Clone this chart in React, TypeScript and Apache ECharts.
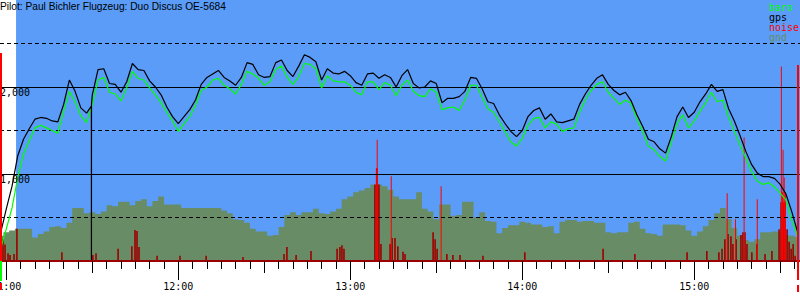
import React, { useEffect, useRef } from "react";
import * as echarts from "echarts";

// ---- data (time in minutes after 11:00) ----
const titleText = "Pilot: Paul Bichler Flugzeug: Duo Discus OE-5684";
const baseHour = 11;
const sampleStart = -2;
const sampleStep = 2;
const flightStart = 3.4;

const gpsAlt = [
  320, 600, 860, 1210, 1400, 1520, 1630, 1650, 1640, 1610,
  1600, 1800, 2080, 1950, 1760, 1700, 1910, 2200, 2210, 2040,
  2030, 1940, 2060, 2270, 2200, 2190, 2070, 2000, 1910, 1770,
  1660, 1580, 1660, 1740, 1850, 2030, 2110, 2150, 2190, 2110,
  2070, 2020, 2110, 2280, 2260, 2140, 2110, 2120, 2280, 2310,
  2190, 2120, 2240, 2370, 2340, 2290, 2080, 2210, 2160, 2150,
  2180, 2130, 2050, 2020, 2150, 2160, 2100, 2140, 2110, 2000,
  2130, 2200, 2040, 1990, 2000, 2070, 2040, 1820, 1870, 1870,
  1890, 1950, 2110, 2100, 1980, 1830, 1810, 1680, 1580, 1490,
  1430, 1500, 1660, 1730, 1760, 1630, 1690, 1600, 1590, 1610,
  1630, 1800, 1920, 2020, 2100, 2140, 2030, 1960, 1910, 1940,
  1840, 1680, 1550, 1400, 1370, 1290, 1240, 1430, 1660, 1770,
  1650, 1710, 1830, 1920, 2030, 1950, 1970, 1750, 1610, 1440,
  1260, 1110, 1010, 970, 970, 950, 880, 770, 570, 340,
];
const gpsDropout = [
  [29.68, 1780],
  [29.7, 0],
  [29.72, 1800],
];

const baroAlt = [
  140, 370, 610, 960, 1230, 1380, 1530, 1560, 1530, 1500,
  1470, 1720, 1950, 1830, 1670, 1590, 1800, 2080, 2110, 1940,
  1920, 1840, 1990, 2180, 2100, 2080, 1990, 1910, 1820, 1710,
  1610, 1490, 1580, 1660, 1790, 1960, 2000, 2080, 2100, 2020,
  1980, 1920, 2030, 2180, 2150, 2100, 2020, 2060, 2200, 2240,
  2110, 2030, 2120, 2270, 2260, 2210, 1990, 2130, 2070, 2060,
  2060, 2020, 1940, 1910, 2060, 2060, 1970, 2050, 2020, 1900,
  2020, 2080, 1950, 1900, 1890, 1980, 1940, 1740, 1760, 1770,
  1730, 1850, 2020, 2020, 1880, 1750, 1710, 1600, 1490, 1370,
  1320, 1410, 1560, 1640, 1650, 1530, 1600, 1570, 1490, 1520,
  1530, 1710, 1850, 1960, 2030, 2060, 1940, 1870, 1800, 1850,
  1810, 1630, 1490, 1320, 1280, 1200, 1150, 1360, 1580, 1680,
  1530, 1610, 1720, 1820, 1940, 1830, 1850, 1650, 1490, 1330,
  1180, 1030, 920, 880, 900, 850, 780, 700, 470, 290,
];

const gndAlt = [
  290, 330, 350, 370, 370, 370, 270, 310, 340, 390,
  400, 380, 440, 610, 610, 550, 560, 540, 570, 640,
  630, 680, 680, 640, 690, 710, 630, 690, 740, 650,
  650, 650, 610, 610, 610, 610, 610, 610, 610, 580,
  550, 480, 470, 440, 370, 340, 340, 290, 300, 390,
  530, 560, 530, 560, 560, 600, 550, 540, 570, 600,
  710, 740, 790, 810, 840, 880, 880, 860, 820, 740,
  710, 710, 710, 790, 600, 570, 480, 650, 650, 520,
  530, 680, 680, 500, 560, 460, 450, 320, 380, 410,
  410, 450, 440, 420, 420, 390, 400, 320, 450, 470,
  470, 450, 460, 460, 440, 440, 330, 320, 330, 330,
  440, 450, 370, 320, 310, 290, 420, 420, 420, 410,
  350, 290, 340, 400, 470, 550, 610, 480, 380, 290,
  240, 220, 250, 330, 330, 340, 340, 300, 290, 280,
];

const noiseLow = [
  [-1.85, 290], [-1.15, 250], [-0.45, 190], [0.6, 90], [1.3, 70], [2.7, 80], [3.7, 370],
  [19.4, 100], [30.2, 70], [31.3, 90], [39.0, 140], [43.8, 170], [44.9, 355], [45.6, 345],
  [46.3, 160], [52.6, 60], [60.6, 60], [69.7, 60], [82.6, 45], [96.9, 80], [97.9, 160],
  [101.1, 70], [106.3, 115], [115.4, 140], [116.4, 160], [117.1, 180], [117.8, 140],
  [128.6, 880], [129.3, 1065], [130.0, 880], [130.7, 195], [133.9, 195], [134.6, 265],
  [135.6, 265], [136.6, 170], [138.4, 105], [139.1, 80], [148.9, 330], [149.6, 250],
  [150.3, 140], [153.7, 80], [155.8, 70], [158.3, 70], [166.3, 60], [180.9, 100],
  [208.2, 140], [219.3, 80], [237.5, 100], [244.4, 115], [248.6, 100], [249.7, 140],
  [250.7, 250], [251.8, 310], [252.8, 285], [253.5, 195], [254.6, 250], [256.3, 300],
  [257.0, 330], [257.7, 330], [258.4, 195], [260.1, 100], [261.9, 195], [264.7, 80],
  [267.1, 115], [269.6, 365], [270.3, 675], [271.0, 675], [271.7, 675], [272.4, 365],
  [273.1, 220], [273.8, 140], [274.5, 195], [275.2, 60],
];
const noisePeak = [
  [129.1, 1065], [129.4, 1395], [134.3, 975], [151.7, 860], [251.5, 780], [254.4, 480],
  [257.4, 1420], [262.0, 710], [270.4, 2235], [270.8, 790], [271.0, 1280], [271.4, 960],
  [271.8, 790],
];

const hourTicks = [0, 60, 120, 180, 240];
const halfHourTicks = [30, 90, 150, 210, 270];
const yLabels = [1000, 2000];
const solidLevels = [1000, 2000];
const dashedLevels = [500, 1500, 2500];

// ---- styling ----
const xMin = -2.2;
const xMax = 276.9;
const mono = "'DejaVu Sans Mono', monospace";
const BLUE = "#5a9cf8";
const GND = "#688c65";
const DARKRED = "#9c0000";

const fiveMinTicks: number[] = [];
for (let m = 0; m <= 275; m += 5) fiveMinTicks.push(m);

const fmtTime = (v: number) => {
  const total = baseHour * 60 + Math.round(v);
  const h = Math.floor(total / 60);
  const m = total % 60;
  return `${h}:${String(m).padStart(2, "0")}`;
};

const series2 = (vals: number[]) =>
  vals.map((v, i) => [sampleStart + i * sampleStep, v]);

export default function App() {
  const ref = useRef<HTMLDivElement>(null);
  useEffect(() => {
    if (!ref.current) return;
    const chart = echarts.init(ref.current, null, { renderer: "svg" });

    const gpsData = series2(gpsAlt)
      .concat(gpsDropout)
      .sort((a, b) => a[0] - b[0]);

    const baseX = {
      type: "value",
      min: xMin,
      max: xMax,
      position: "bottom",
      gridIndex: 0,
      z: 10,
      splitLine: { show: false },
      axisLine: { show: false },
      axisLabel: { show: false },
      axisTick: { show: false },
    };

    chart.setOption({
      animation: false,
      backgroundColor: "#ffffff",
      title: {
        text: titleText,
        left: 0,
        top: 1,
        padding: 0,
        z: 20,
        textStyle: {
          fontFamily: "'Liberation Sans', Arial, sans-serif",
          fontSize: 10.2,
          fontWeight: "normal",
          color: "#000",
        },
      },
      legend: {
        orient: "vertical",
        left: 764,
        top: 2,
        padding: 0,
        itemGap: 0,
        itemWidth: 0,
        itemHeight: 10,
        icon: "none",
        selectedMode: false,
        z: 20,
        textStyle: { fontFamily: mono, fontSize: 10, lineHeight: 10 },
        data: [
          { name: "baro", textStyle: { color: "#00ff00" } },
          { name: "gps", textStyle: { color: "#000000" } },
          { name: "noise", textStyle: { color: "#ff0000" } },
          { name: "gnd", textStyle: { color: GND } },
        ],
      },
      grid: {
        left: 0,
        right: 0,
        top: 0,
        bottom: 39,
        show: true,
        backgroundColor: BLUE,
        borderWidth: 0,
        containLabel: false,
        outerBoundsMode: "none",
      },
      xAxis: [
        {
          ...baseX,
          axisLine: { show: true, onZero: false, lineStyle: { color: DARKRED, width: 2 } },
          axisTick: { show: true, length: 19, customValues: hourTicks, lineStyle: { color: "#000" } },
          axisLabel: {
            show: true,
            customValues: hourTicks,
            formatter: fmtTime,
            margin: 20,
            fontFamily: mono,
            fontSize: 10,
            color: "#000",
          },
        },
        {
          ...baseX,
          axisTick: { show: true, length: 12, customValues: halfHourTicks, lineStyle: { color: "#000" } },
        },
        {
          ...baseX,
          axisTick: { show: true, length: 8, customValues: fiveMinTicks, lineStyle: { color: "#000" } },
        },
      ],
      yAxis: {
        type: "value",
        min: 0,
        max: 3000,
        z: 20,
        axisLine: { show: false },
        axisTick: { show: false },
        splitLine: { show: false },
        axisLabel: {
          show: true,
          inside: true,
          margin: 0,
          customValues: yLabels,
          verticalAlign: "top",
          align: "left",
          fontFamily: mono,
          fontSize: 10,
          color: "#000",
        },
      },
      graphic: [
        { type: "rect", z: 100, shape: { x: 0, y: 53, width: 2, height: 208 }, style: { fill: "#ff0000" } },
        { type: "rect", z: 100, shape: { x: 0, y: 261, width: 2, height: 20 }, style: { fill: "#00ff00" } },
        { type: "rect", z: 100, shape: { x: 0, y: 283, width: 2, height: 7 }, style: { fill: "#ff0000" } },
        { type: "rect", z: 100, shape: { x: 797, y: 65, width: 2, height: 215 }, style: { fill: "#ff0000" } },
        { type: "rect", z: 100, shape: { x: 797, y: 285, width: 2, height: 7 }, style: { fill: "#ff0000" } },
      ],
      series: [
        {
          name: "bg",
          type: "line",
          data: [],
          z: 1,
          silent: true,
          markArea: {
            silent: true,
            itemStyle: { color: "#ffffff" },
            data: [[{ xAxis: xMin, yAxis: 0 }, { xAxis: flightStart, yAxis: 3000 }]],
          },
        },
        {
          name: "gnd",
          type: "line",
          step: "middle",
          z: 2,
          symbol: "none",
          silent: true,
          data: series2(gndAlt),
          lineStyle: { width: 0, color: GND },
          itemStyle: { color: GND },
          areaStyle: { color: GND, opacity: 1 },
        },
        {
          name: "noise",
          type: "bar",
          xAxisIndex: 1,
          z: 3,
          silent: true,
          barWidth: 1.6,
          itemStyle: { color: DARKRED },
          data: noiseLow,
        },
        {
          name: "noise",
          type: "bar",
          xAxisIndex: 2,
          z: 4,
          silent: true,
          barWidth: 1,
          itemStyle: { color: "#ff0000" },
          data: noisePeak,
        },
        {
          name: "baro",
          type: "line",
          z: 5,
          symbol: "none",
          silent: true,
          data: series2(baroAlt),
          lineStyle: { width: 1.2, color: "#00ff00" },
          itemStyle: { color: "#00ff00" },
        },
        {
          name: "gps",
          type: "line",
          z: 6,
          symbol: "none",
          silent: true,
          data: gpsData,
          lineStyle: { width: 1.2, color: "#000000" },
          itemStyle: { color: "#000000" },
          markLine: {
            silent: true,
            symbol: ["none", "none"],
            label: { show: false },
            data: [
              ...solidLevels.map((v) => ({ yAxis: v, lineStyle: { type: "solid", color: "#000", width: 1 } })),
              ...dashedLevels.map((v) => ({ yAxis: v, lineStyle: { type: [4, 3], color: "#000", width: 1 } })),
            ],
          },
        },
      ],
    });

    return () => chart.dispose();
  }, []);

  return (
    <div
      ref={ref}
      style={{ position: "absolute", left: 0, top: 0, width: 800, height: 300 }}
    />
  );
}
